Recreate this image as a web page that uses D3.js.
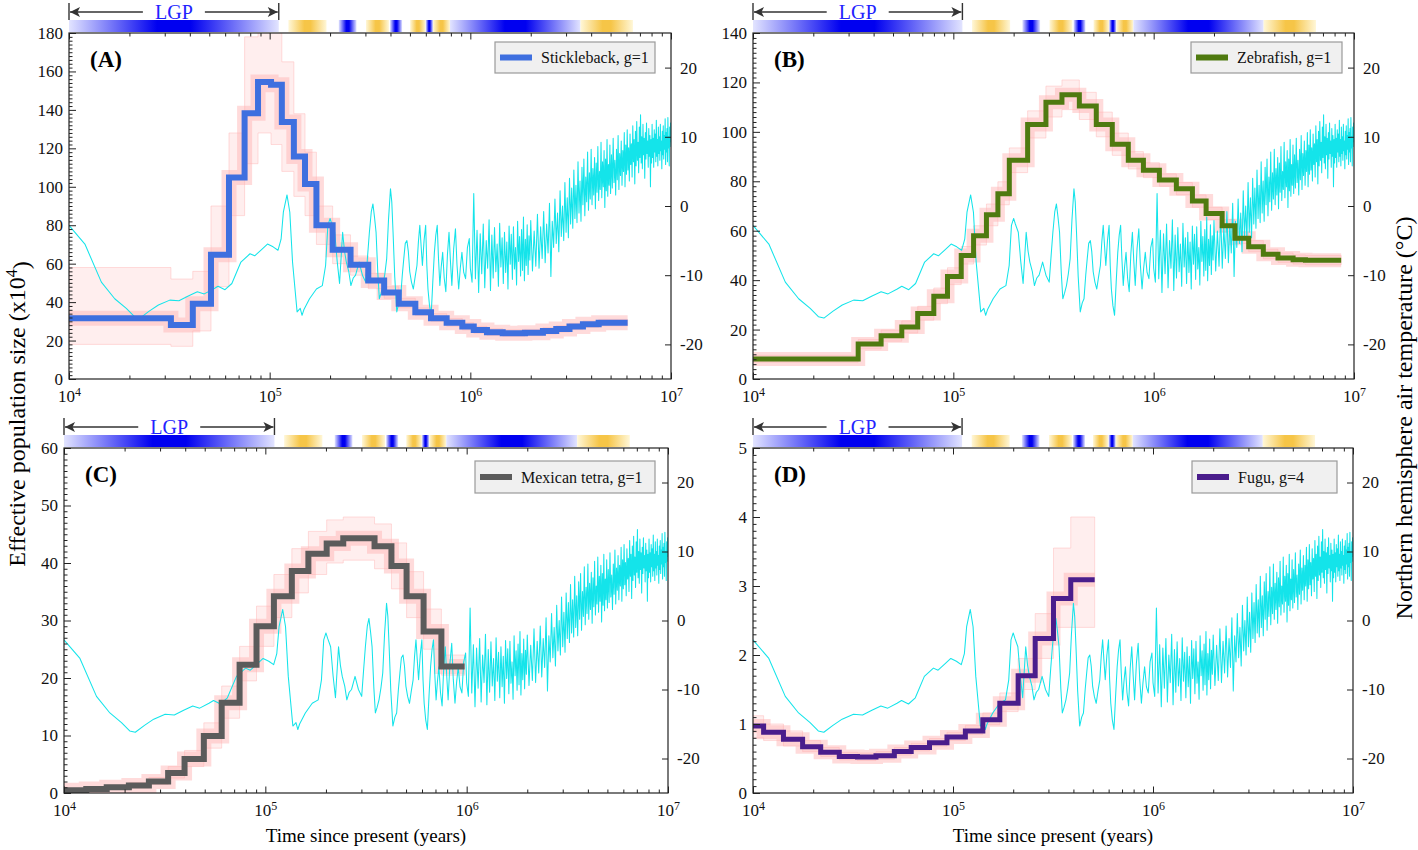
<!DOCTYPE html>
<html><head><meta charset="utf-8">
<script src="https://cdn.jsdelivr.net/npm/d3@7"></script>
<style>
body{margin:0;background:#fff;}
svg text{font-family:"Liberation Serif","Times New Roman",serif;}
</style></head><body>
<svg id="chart" width="1418" height="850"></svg>
<script>
// ---------------- DATA ----------------
// Stickleback (A)
const sticklebackStartKyr = [10, 32.2, 41.4, 51.0, 62.7, 75.0, 87.5, 101.6, 115, 132, 150, 171, 206, 253, 310, 372, 440, 532, 637, 762, 912, 1040, 1210, 1450, 1870, 2300, 2680, 3120, 3640, 4360];
const sticklebackEndKyr = 6080;
const sticklebackNe   = [31.6, 28.1, 39.1, 64.6, 104.8, 138.3, 154.5, 153.1, 133.7, 115.8, 101.5, 80.0, 67.2, 59.4, 51.2, 45.0, 39.1, 34.7, 31.6, 29.3, 27.3, 25.5, 24.3, 23.8, 24.1, 25.0, 26.0, 27.3, 28.5, 29.3];
const sticklebackLow  = [18, 17, 25, 48, 85, 112, 128, 122, 108, 95, 85, 70, 60, 54, 47, 42, 37, 33, 30, 27.5, 25.5, 23.8, 22.6, 22.2, 22.5, 23.4, 24.4, 25.7, 26.9, 27.6];
const sticklebackHigh = [58, 52, 56, 90, 128, 178, 190, 190, 165, 138, 118, 90, 75, 64, 55, 48, 42, 37, 34, 31.5, 29.3, 27.4, 26.2, 25.6, 25.8, 26.7, 27.7, 29.0, 30.2, 31.0];
// Zebrafish (B)
const zebrafishStartKyr = [10, 33.5, 43.6, 55.3, 66.4, 79.9, 93.5, 109.5, 126.2, 146.3, 166.9, 190.3, 234.9, 289.9, 348.5, 425.6, 517.1, 621.5, 747.1, 888.8, 1068, 1298, 1561, 1827, 2197, 2546, 2981, 3527, 4174, 4966, 5723];
const zebrafishEndKyr = 8628;
const zebrafishNe   = [8.1, 14.2, 17.5, 21, 26.5, 33.5, 41.5, 50, 58, 66.5, 75, 88.5, 103, 112, 115, 110.5, 103, 95, 88.5, 84.5, 80.5, 77, 72, 67, 62, 57, 53.5, 50.5, 49, 48.3, 48];
const zebrafishLow  = [6.8, 12.2, 15.3, 18.6, 23.8, 30.5, 38.2, 46.5, 54.2, 62.0, 70.5, 83.5, 97.5, 106, 109, 105, 98, 90.5, 85, 81.5, 78, 74.5, 69.5, 64.5, 59.5, 54.8, 51.5, 48.6, 47.2, 46.5, 46.2];
const zebrafishHigh = [9.6, 16.0, 19.8, 23.5, 29.4, 36.8, 45.0, 53.6, 62.0, 70.8, 79.8, 93.5, 108.5, 118.5, 121, 116, 108, 99.5, 92, 87.5, 83, 79.5, 74.5, 69.5, 64.5, 59.5, 56, 52.5, 51, 50.2, 50];
// Mexican tetra (C)
const tetraStartKyr = [10, 12.9, 16.3, 21.0, 26.4, 32.9, 39.7, 49.5, 60.7, 74.5, 90.4, 110.3, 135.4, 163.6, 201.7, 243.8, 348.7, 423, 503, 611, 749];
const tetraEndKyr = 977;
const tetraNe   = [0.5, 0.7, 1.0, 1.3, 2.0, 3.5, 5.9, 9.9, 15.7, 22.3, 29.0, 34.2, 38.6, 41.6, 43.4, 44.3, 42.9, 39.5, 34.2, 28.1, 22.0];
const tetraLow  = [0.3, 0.5, 0.7, 0.9, 1.5, 2.6, 4.6, 7.8, 13.0, 19.5, 25.5, 30.5, 34.8, 38.0, 40.0, 40.5, 39.0, 35.5, 30.5, 25.0, 20.5];
const tetraHigh = [0.8, 1.0, 1.4, 1.8, 2.7, 4.6, 7.4, 12.2, 18.6, 25.5, 32.5, 38.0, 42.5, 45.5, 47.5, 48.0, 46.8, 43.5, 38.5, 32.0, 24.0];
// Fugu (D)
const fuguStartKyr = [10, 11.3, 14.2, 17.7, 21.8, 27.0, 33.3, 41.2, 50.9, 61.8, 76.3, 93.3, 115.3, 141.0, 171.4, 211.7, 257.6, 318, 388];
const fuguEndKyr = 511;
const fuguNe   = [0.97, 0.88, 0.78, 0.67, 0.59, 0.53, 0.52, 0.54, 0.60, 0.66, 0.73, 0.81, 0.90, 1.06, 1.30, 1.70, 2.24, 2.82, 3.09];
const fuguLow  = [0.80, 0.76, 0.68, 0.60, 0.53, 0.48, 0.47, 0.49, 0.55, 0.61, 0.68, 0.76, 0.85, 0.99, 1.18, 1.50, 1.95, 2.40, 2.40];
const fuguHigh = [1.12, 1.00, 0.90, 0.76, 0.66, 0.59, 0.58, 0.60, 0.66, 0.72, 0.79, 0.88, 0.98, 1.16, 1.45, 1.95, 2.60, 3.55, 4.00];

// Northern hemisphere air temperature: [kyr, degC]
const temperatureSeries = [
[10,-2.8],[12,-5.5],[14.5,-11.0],[16.9,-13.4],[19.3,-14.8],[21.2,-16.0],[22.6,-16.2],[25.1,-15.2],[27.9,-14.3],[31.8,-13.6],
[35.3,-13.7],[39.3,-13.0],[43.6,-12.4],[47.2,-12.7],[52.5,-12.0],[55.3,-11.6],[59.9,-12.1],[64.8,-11.2],[71.9,-8.1],[79.8,-6.9],
[84.2,-7.2],[91.1,-6.3],[97.5,-5.5],[104,-5.9],[110,-6.4],[114,-4.8],
[117,-0.9],[122,1.6],[126,-0.9],[130,-8.1],[137,-15.3],[142,-14.8],[145,-15.8],[148,-15.0],[158,-13.4],[171,-12.0],
[183,-11.5],[190,-8.6],[195,-2.8],[200,-1.8],[204,-2.6],[211,-3.8],[217,-8.0],[223,-11.2],[231,-3.8],[236,-6.5],
[241,-8.1],[248,-9.5],[254,-11.5],[261,-10.4],[268,-10.0],[279,-8.1],[290,-10.0],[301,-11.0],[308,-7.0],[314,-3.8],
[321,-0.8],[327,0.3],[333,-1.6],[339,-3.8],[346,-9.8],[352,-13.4],[359,-12.6],[367,-11.5],[375,-9.8],[383,-7.6],
[391,-2.0],[400,2.5],[406,0.6],[412,-3.8],[420,-10.2],[430,-15.3],[440,-14.0],[449,-13.4],[458,-10.0],[466,-7.6],
[474,-5.4],[483,-5.0],[491,-6.6],[499,-9.5],[509,-11.0],[520,-12.0],[531,-10.2],[542,-8.6],[551,-5.2],[560,-2.8],
[568,-5.6],[577,-8.6],[588,-5.0],[599,-2.8],[607,-8.6],[615,-12.0],[626,-14.4],[638,-15.8],[650,-11.0],[662,-6.7],
[673,-4.2],[684,-2.8],[694,-7.6],[705,-11.5],[716,-8.8],[728,-6.7],[741,-10.4],[755,-12.4],[769,-7.0],[783,-3.8],
[796,-8.0],[809,-11.5],[826,-6.2],[843,-3.3],[858,-8.5],[875,-12.0],[891,-9.0],[908,-6.7],[927,-9.6],[947,-10.5],
[967,-6.0],[988,-4.7],
[1000,-9.0],[1020,-11.0],[1040,1.8],[1060,-10.5],[1080,-3.5],[1100,-12.5],[1120,-4.0],[1140,-9.8],[1160,-2.6],[1180,-11.8],
[1200,-5.0],[1220,-9.0],[1240,-2.0],[1260,-12.2],[1280,-4.2],[1300,-10.4],[1320,-3.1],[1340,-9.5],[1360,-5.5],[1380,-11.6],
[1400,-2.5],[1420,-8.8],[1440,-4.6],[1460,-11.2],[1480,-3.8],[1500,-9.6],[1520,-5.2],[1540,-12.0],[1560,-2.9],[1580,-8.4],
[1600,-4.1],[1620,-10.6],[1640,-3.0],[1660,-9.1],[1680,-6.0],[1700,-11.4],[1720,-2.2],[1740,-8.0],[1760,-4.4],[1780,-10.1],
[1800,-3.4],[1820,-9.3],[1840,-1.6],[1860,-10.8],[1880,-4.8],[1900,-8.6],[1920,-2.7],[1940,-9.9],[1960,-4.3],[1980,-7.8],
[2000,-2.1],
[2040,-9.4],[2080,-3.6],[2120,-8.7],[2160,-1.2],[2200,-9.0],[2240,-3.0],[2280,-7.6],[2320,-0.8],[2360,-8.2],[2400,-2.6],
[2440,-6.8],[2480,0.4],[2520,-10.2],[2560,-2.2],[2600,-6.0],[2640,1.0],[2680,-5.4],[2720,-1.0],[2760,-6.6],[2800,2.2],
[2840,-4.4],[2880,0.0],[2920,-5.0],[2960,3.4],[3000,-3.8],[3040,1.2],[3080,-4.6],[3120,4.0],[3160,-2.6],[3200,2.6],
[3240,-3.2],[3280,5.2],[3320,-1.8],[3360,3.0],[3400,-2.4],[3440,6.4],[3480,-1.0],[3520,3.6],[3560,-2.2],[3600,5.6],
[3640,0.2],[3680,6.8],[3720,-1.4],[3760,4.2],[3800,0.6],[3840,7.8],[3880,-0.6],[3920,4.8],[3960,1.0],[4000,8.2],
[4040,0.2],[4080,5.4],[4120,1.6],[4160,7.0],[4200,-0.4],[4240,6.2],[4280,2.0],[4320,8.6],[4360,0.8],[4400,5.0],
[4440,2.4],[4480,9.2],[4520,1.2],[4560,6.4],[4600,2.8],[4640,8.0],[4680,-0.2],[4720,6.8],[4760,2.2],[4800,9.6],
[4840,1.4],[4880,6.0],[4920,3.0],[4960,8.8],[5000,1.8],
[5050,7.4],[5100,2.6],[5150,9.8],[5200,3.4],[5250,6.6],[5300,1.6],[5350,8.2],[5400,3.8],[5450,10.2],[5500,2.4],
[5550,7.6],[5600,4.4],[5650,9.4],[5700,3.0],[5750,8.0],[5800,5.0],[5850,10.6],[5900,2.8],[5950,8.8],[6000,4.6],
[6050,11.0],[6100,5.2],[6150,8.4],[6200,3.6],[6250,10.4],[6300,6.0],[6350,9.0],[6400,4.2],[6450,11.6],[6500,6.4],
[6550,9.6],[6600,3.2],[6650,10.8],[6700,5.8],[6750,12.2],[6800,6.6],[6850,9.2],[6900,4.8],[6950,11.4],[7000,7.0],
[7050,13.2],[7100,6.2],[7150,10.0],[7200,5.4],[7250,11.8],[7300,7.4],[7350,9.8],[7400,4.0],[7450,10.6],[7500,6.8],
[7550,12.0],[7600,7.6],[7650,9.4],[7700,5.6],[7750,11.2],[7800,7.2],[7850,10.2],[7900,2.8],[7950,9.6],[8000,6.2],
[8050,11.8],[8100,7.0],[8150,9.8],[8200,5.6],[8250,11.0],[8300,7.8],[8350,10.4],[8400,6.4],[8450,12.4],[8500,7.2],
[8550,9.6],[8600,5.8],[8650,11.4],[8700,7.6],[8750,10.0],[8800,6.6],[8850,11.8],[8900,8.0],[8950,9.4],[9000,5.4],
[9050,10.8],[9100,7.4],[9150,11.6],[9200,6.8],[9250,10.2],[9300,8.2],[9350,12.6],[9400,6.0],[9450,10.6],[9500,7.8],
[9550,11.2],[9600,6.4],[9650,12.8],[9700,8.4],[9750,10.0],[9800,5.8],[9850,11.4],[9900,8.6],[9950,12.0],[10000,9.2]
];

// Climate strip above each panel (kyr), cold = glacial (blue), warm = interglacial (gold)
const climateStartKyr = [10, 124, 221, 302, 398, 501, 599, 652, 792, 3540];
const climateEndKyr   = [111, 192, 271, 393, 457, 599, 652, 792, 3540, 6460];
const climateType     = ['cold','warm','cold','warm','cold','warm','cold','warm','cold','warm'];
const lgpStartKyr = 10, lgpEndKyr = 111;

const xTickDecades = [1e4, 1e5, 1e6, 1e7];
const tempTicks = [-20, -10, 0, 10, 20];

// ---------------- DRAW ----------------
const svg = d3.select('#chart');
const defs = svg.append('defs');
function makeGrad(id, edge, mid){
  const g = defs.append('linearGradient').attr('id', id).attr('x1','0').attr('x2','1').attr('y1','0').attr('y2','0');
  g.append('stop').attr('offset','0').attr('stop-color',edge);
  g.append('stop').attr('offset','0.42').attr('stop-color',mid);
  g.append('stop').attr('offset','0.58').attr('stop-color',mid);
  g.append('stop').attr('offset','1').attr('stop-color',edge);
}
makeGrad('coldGrad', '#e2e4ff', '#0000f0');
makeGrad('warmGrad', '#fff7d8', '#f6c547');
defs.append('marker').attr('id','arrowHead').attr('viewBox','0 0 10 10').attr('refX',10).attr('refY',5)
  .attr('markerWidth',13).attr('markerHeight',10).attr('markerUnits','userSpaceOnUse').attr('orient','auto')
  .append('path').attr('d','M0,0 L10,5 L0,10 L2.5,5 Z').attr('fill','#333');

const panels = [
  {key:'A', legend:'Stickleback, g=1', color:'#3e6fdf', lw:6, start:sticklebackStartKyr, end:sticklebackEndKyr, ne:sticklebackNe, low:sticklebackLow, high:sticklebackHigh, yMax:180, yStep:20, box:{x0:69,x1:671,y0:33,y1:379}, lb:{x:495,y:42,w:160,h:31}},
  {key:'B', legend:'Zebrafish, g=1', color:'#4f7a10', lw:5, start:zebrafishStartKyr, end:zebrafishEndKyr, ne:zebrafishNe, low:zebrafishLow, high:zebrafishHigh, yMax:140, yStep:20, box:{x0:753,x1:1354,y0:33,y1:379}, lb:{x:1191,y:42,w:151,h:31}},
  {key:'C', legend:'Mexican tetra, g=1', color:'#5b5b5b', lw:6, start:tetraStartKyr, end:tetraEndKyr, ne:tetraNe, low:tetraLow, high:tetraHigh, yMax:60, yStep:10, box:{x0:64,x1:668,y0:448,y1:793}, lb:{x:475,y:461,w:180,h:32}},
  {key:'D', legend:'Fugu, g=4', color:'#4a1d8c', lw:5, start:fuguStartKyr, end:fuguEndKyr, ne:fuguNe, low:fuguLow, high:fuguHigh, yMax:5, yStep:1, box:{x0:753,x1:1353,y0:448,y1:793}, lb:{x:1192,y:461,w:145,h:32}}
];

const isDecade = v => Math.abs(Math.log10(v) - Math.round(Math.log10(v))) < 1e-9;

function styleAxis(g){
  g.attr('font-family','Liberation Serif, serif').attr('font-size',16);
  g.selectAll('.tick line').attr('stroke','#222');
  g.selectAll('.tick text').attr('fill','#111');
  g.select('.domain').remove();
}

panels.forEach(p => {
  const {x0,x1,y0,y1} = p.box;
  const x = d3.scaleLog().domain([1e4,1e7]).range([x0,x1]);
  const y = d3.scaleLinear().domain([0,p.yMax]).range([y1,y0]);
  const yT = d3.scaleLinear().domain([-25,25]).range([y1,y0]);
  const g = svg.append('g');
  const clipId = 'clip' + p.key;
  defs.append('clipPath').attr('id',clipId).append('rect')
    .attr('x',x0).attr('y',y0).attr('width',x1-x0).attr('height',y1-y0);
  const plot = g.append('g').attr('clip-path',`url(#${clipId})`);

  const pts = p.start.map((s,i)=>({t:s*1000, v:p.ne[i], lo:p.low[i], hi:p.high[i]}));
  const last = pts[pts.length-1];
  pts.push({t:p.end*1000, v:last.v, lo:last.lo, hi:last.hi});

  const stepLine = d3.line().curve(d3.curveStepAfter).x(d=>x(d.t)).y(d=>y(d.v));

  // bootstrap haze
  plot.append('path').datum(pts)
    .attr('d', d3.area().curve(d3.curveStepAfter).x(d=>x(d.t)).y0(d=>y(d.lo)).y1(d=>y(d.hi)))
    .attr('fill','#ffc8c8').attr('fill-opacity',0.3).attr('stroke','#ffb4b4').attr('stroke-opacity',0.45).attr('stroke-width',1);
  plot.append('path').datum(pts).attr('d', stepLine)
    .attr('fill','none').attr('stroke','#ffb0b0').attr('stroke-opacity',0.45).attr('stroke-width',p.lw + 9);

  // temperature
  const tPts = temperatureSeries.map(d=>({t:d[0]*1000, c:d[1]}));
  plot.append('path').datum(tPts)
    .attr('d', d3.line().x(d=>x(d.t)).y(d=>yT(d.c)))
    .attr('fill','none').attr('stroke','#14e4ea').attr('stroke-width',1.05).attr('stroke-linejoin','round');

  // main Ne step line
  plot.append('path').datum(pts).attr('d', stepLine)
    .attr('fill','none').attr('stroke',p.color).attr('stroke-width',p.lw).attr('stroke-linejoin','miter');

  // axes
  const allX = x.ticks();
  const minorX = allX.filter(v=>!isDecade(v));
  const gBm = g.append('g').attr('transform',`translate(0,${y1})`).call(d3.axisBottom(x).tickValues(minorX).tickSize(-3.5).tickFormat(''));
  styleAxis(gBm);
  const gB = g.append('g').attr('transform',`translate(0,${y1})`).call(d3.axisBottom(x).tickValues(xTickDecades).tickSizeInner(-6.5).tickSizeOuter(0).tickPadding(11).tickFormat(''));
  styleAxis(gB);
  gB.selectAll('.tick text').attr('font-size',17).each(function(d){
    const t = d3.select(this);
    t.append('tspan').text('10');
    t.append('tspan').attr('dy','-0.5em').attr('font-size',12).text(Math.round(Math.log10(d)));
  });
  const gTm = g.append('g').attr('transform',`translate(0,${y0})`).call(d3.axisTop(x).tickValues(minorX).tickSize(-3.5).tickFormat(''));
  styleAxis(gTm);
  const gT = g.append('g').attr('transform',`translate(0,${y0})`).call(d3.axisTop(x).tickValues(xTickDecades).tickSize(-6.5).tickFormat(''));
  styleAxis(gT);

  const majorY = d3.range(0, p.yMax + p.yStep/2, p.yStep);
  const minorY = d3.range(0, p.yMax + 1e-9, p.yStep/10).filter(v => Math.abs(v/p.yStep - Math.round(v/p.yStep)) > 1e-6);
  const gLm = g.append('g').attr('transform',`translate(${x0},0)`).call(d3.axisLeft(y).tickValues(minorY).tickSize(-3.5).tickFormat(''));
  styleAxis(gLm);
  const gL = g.append('g').attr('transform',`translate(${x0},0)`).call(d3.axisLeft(y).tickValues(majorY).tickSizeInner(-7).tickSizeOuter(0).tickPadding(6).tickFormat(d=>String(d)));
  styleAxis(gL);
  gL.selectAll('.tick text').attr('font-size',17);

  const gR = g.append('g').attr('transform',`translate(${x1},0)`).call(d3.axisRight(yT).tickValues(tempTicks).tickSizeInner(-6).tickSizeOuter(0).tickPadding(9).tickFormat(d=>String(d)));
  styleAxis(gR);
  gR.selectAll('.tick text').attr('font-size',17);

  // frame
  g.append('rect').attr('x',x0).attr('y',y0).attr('width',x1-x0).attr('height',y1-y0)
    .attr('fill','none').attr('stroke','#222').attr('stroke-width',1.2);

  // climate strip
  const stripTop = y0 - 13;
  g.append('g').selectAll('rect').data(climateStartKyr).join('rect')
    .attr('x', (s)=>x(s*1000))
    .attr('width', (s,i)=>x(climateEndKyr[i]*1000)-x(s*1000))
    .attr('y', stripTop).attr('height', 12)
    .attr('fill', (s,i)=>climateType[i]==='cold' ? 'url(#coldGrad)' : 'url(#warmGrad)');

  // LGP arrow
  const ax0 = x(lgpStartKyr*1000), ax1 = x(lgpEndKyr*1000), ay = y0 - 21, mid = (ax0+ax1)/2;
  const ag = g.append('g').attr('stroke','#333').attr('stroke-width',1.4);
  ag.append('line').attr('x1',ax0).attr('x2',ax0).attr('y1',ay-9).attr('y2',stripTop);
  ag.append('line').attr('x1',ax1).attr('x2',ax1).attr('y1',ay-9).attr('y2',stripTop);
  ag.append('line').attr('x1',mid-31).attr('x2',ax0+1).attr('y1',ay).attr('y2',ay).attr('marker-end','url(#arrowHead)');
  ag.append('line').attr('x1',mid+31).attr('x2',ax1-1).attr('y1',ay).attr('y2',ay).attr('marker-end','url(#arrowHead)');
  g.append('text').attr('x',mid).attr('y',ay+7).attr('text-anchor','middle')
    .attr('font-size',20).attr('fill','#2222ff').text('LGP');

  // panel label
  g.append('text').attr('x',x0+21).attr('y',y0+34).attr('font-size',23).attr('font-weight','bold').text('(' + p.key + ')');

  // legend
  const lb = p.lb;
  g.append('rect').attr('x',lb.x).attr('y',lb.y).attr('width',lb.w).attr('height',lb.h)
    .attr('fill','#f0f0f0').attr('stroke','#9a9a9a').attr('stroke-width',1.2);
  g.append('line').attr('x1',lb.x+5).attr('x2',lb.x+37).attr('y1',lb.y+lb.h/2).attr('y2',lb.y+lb.h/2)
    .attr('stroke',p.color).attr('stroke-width',6);
  g.append('text').attr('x',lb.x+46).attr('y',lb.y+lb.h/2+5.5).attr('font-size',16).attr('fill','#111').text(p.legend);

  // x title for bottom panels
  if (p.key === 'C' || p.key === 'D') {
    g.append('text').attr('x',(x0+x1)/2).attr('y',842).attr('text-anchor','middle').attr('font-size',19).text('Time since present (years)');
  }
});

// axis titles
const lt = svg.append('text').attr('transform','translate(25,414) rotate(-90)').attr('text-anchor','middle').attr('font-size',24);
lt.append('tspan').text('Effective population size (x10');
lt.append('tspan').attr('dy','-0.5em').attr('font-size',16).text('4');
lt.append('tspan').attr('dy','0.5em').text(')');
svg.append('text').attr('transform','translate(1412,418) rotate(-90)').attr('text-anchor','middle').attr('font-size',24)
  .text('Northern hemisphere air temperature (°C)');
</script>
</body></html>
